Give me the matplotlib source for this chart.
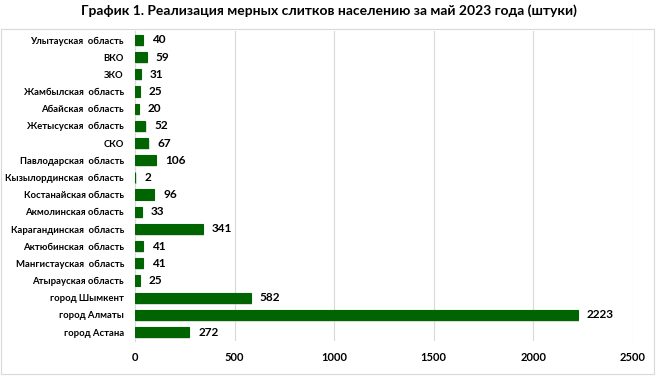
import matplotlib
matplotlib.use("Agg")
import matplotlib.pyplot as plt
from matplotlib.patches import Rectangle

categories = ["Улытауская  область", "ВКО", "ЗКО", "Жамбылская  область", "Абайская  область",
              "Жетысуская  область", "СКО", "Павлодарская  область", "Кызылординская  область",
              "Костанайская область", "Акмолинская область", "Карагандинская  область",
              "Актюбинская  область", "Мангистауская  область", "Атырауская область",
              "город Шымкент", "город Алматы", "город Астана"]
values = [40, 59, 31, 25, 20, 52, 67, 106, 2, 96, 33, 341, 41, 41, 25, 582, 2223, 272]
xticks = [0, 500, 1000, 1500, 2000, 2500]
title = "График 1. Реализация мерных слитков населению за май 2023 года (штуки)"

plt.rcParams['font.family'] = ['Lato', 'DejaVu Sans']

fig = plt.figure(figsize=(6.57, 3.76), dpi=100)
ax = fig.add_axes([0.2055, 0.0941, 0.758, 0.8224])

y = list(range(len(categories)))
green = "#006400"
# shadow
ax.barh([v + 0.1 for v in y], values, height=0.6, color="#c8c8c8", alpha=0.5, left=6, zorder=2)
ax.barh(y, values, height=0.6, color=green, edgecolor=green, linewidth=0.8, zorder=3)
for yi, v in zip(y, values):
    ax.text(v + 45, yi, str(v), va="center", ha="left", fontsize=8.5, fontweight="bold", color="black")

ax.set_ylim(len(categories) - 0.5, -0.5)
ax.set_xlim(0, 2500)
ax.set_yticks(y)
ax.set_yticklabels(categories, fontsize=6.8, fontweight="bold")
ax.set_xticks(xticks)
ax.set_xticklabels([str(t) for t in xticks], fontsize=8, fontweight="bold")
ax.tick_params(axis="both", length=0)
ax.tick_params(axis="y", pad=8)
ax.tick_params(axis="x", pad=8)
ax.grid(axis="x", color="#d9d9d9", linewidth=0.8, zorder=0)
for s in ["top", "right", "bottom"]:
    ax.spines[s].set_visible(False)
ax.spines["left"].set_color("#d9d9d9")
ax.spines["left"].set_linewidth(0.8)

fig.text(0.5, 0.972, title, ha="center", va="center", fontsize=10, fontweight="bold")
fig.patches.append(Rectangle((0.002, 0.005), 0.994, 0.917, transform=fig.transFigure,
                             fill=False, edgecolor="#d9d9d9", linewidth=0.8))

fig.savefig("out.png", dpi=100)
